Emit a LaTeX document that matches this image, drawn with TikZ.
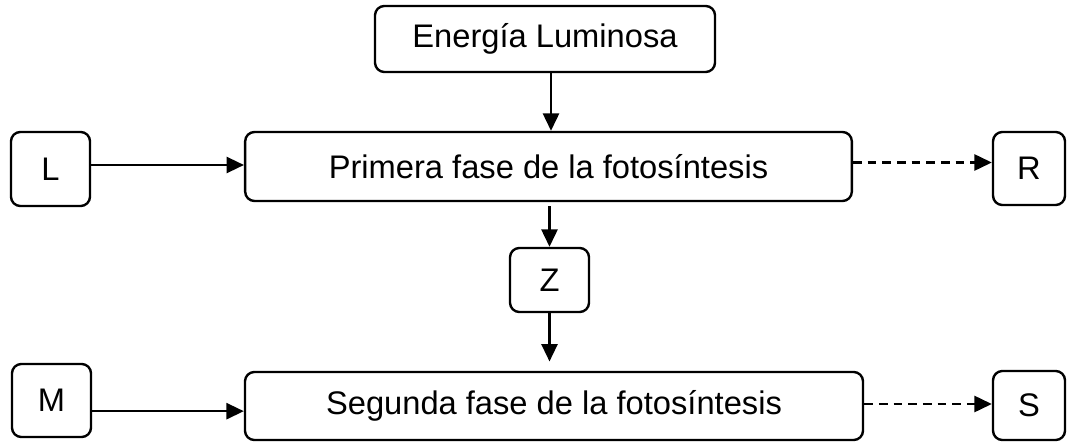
\documentclass[tikz,border=0pt]{standalone}
\usepackage{fontspec}
\setmainfont{Liberation Sans}
\usetikzlibrary{arrows.meta}

\begin{document}
\begin{tikzpicture}[x=0.75pt, y=-0.75pt, line width=1.8pt,
  caja/.style={draw, rounded corners=7pt, inner sep=0pt, font=\fontsize{24.5}{28}\selectfont},
  flecha/.style={-{Triangle[length=13pt,width=12pt]}},
  trazos/.style={flecha, dash pattern=on 6.5pt off 4.5pt}]
  \useasboundingbox (0,0) rectangle (1067,442);

  \node[caja, minimum width=255pt, minimum height=49.5pt] (E) at (545,39) {Energía Luminosa};
  \node[caja, minimum width=455pt, minimum height=51.75pt] (P) at (548.5,166.5) {Primera fase de la fotosíntesis};
  \node[caja, minimum width=463.5pt, minimum height=51pt] (S2) at (554,406) {Segunda fase de la fotosíntesis};

  \node[caja, minimum width=59.25pt, minimum height=55.5pt] (L) at (50.5,169) {L};
  \node[caja, minimum width=54pt, minimum height=54.75pt] (R) at (1029,168.5) {R};
  \node[caja, minimum width=59.25pt, minimum height=48pt] (Z) at (549.5,280) {Z};
  \node[caja, minimum width=59.25pt, minimum height=54.75pt] (M) at (51.5,400.5) {M};
  \node[caja, minimum width=54pt, minimum height=51.75pt] (S) at (1029,405.5) {S};

  \draw[flecha] ([xshift=4.5pt]E.south) -- ([xshift=4.5pt]E.south |- P.north);
  \draw[flecha] ([yshift=-3pt]Z.north |- P.south) -- (Z.north);
  \draw[flecha] (Z.south) -- ([yshift=7pt]Z.south |- S2.north);

  \draw[flecha] ([yshift=3pt]L.east) -- ([yshift=3pt]L.east -| P.west);
  \draw[flecha] ([yshift=-8pt]M.east) -- ([yshift=-8pt]M.east -| S2.west);

  \draw[trazos] ([yshift=3pt]P.east) -- ([yshift=3pt]P.east -| R.west);
  \draw[trazos] ([yshift=1.5pt]S2.east) -- ([yshift=1.5pt]S2.east -| S.west);
\end{tikzpicture}
\end{document}
